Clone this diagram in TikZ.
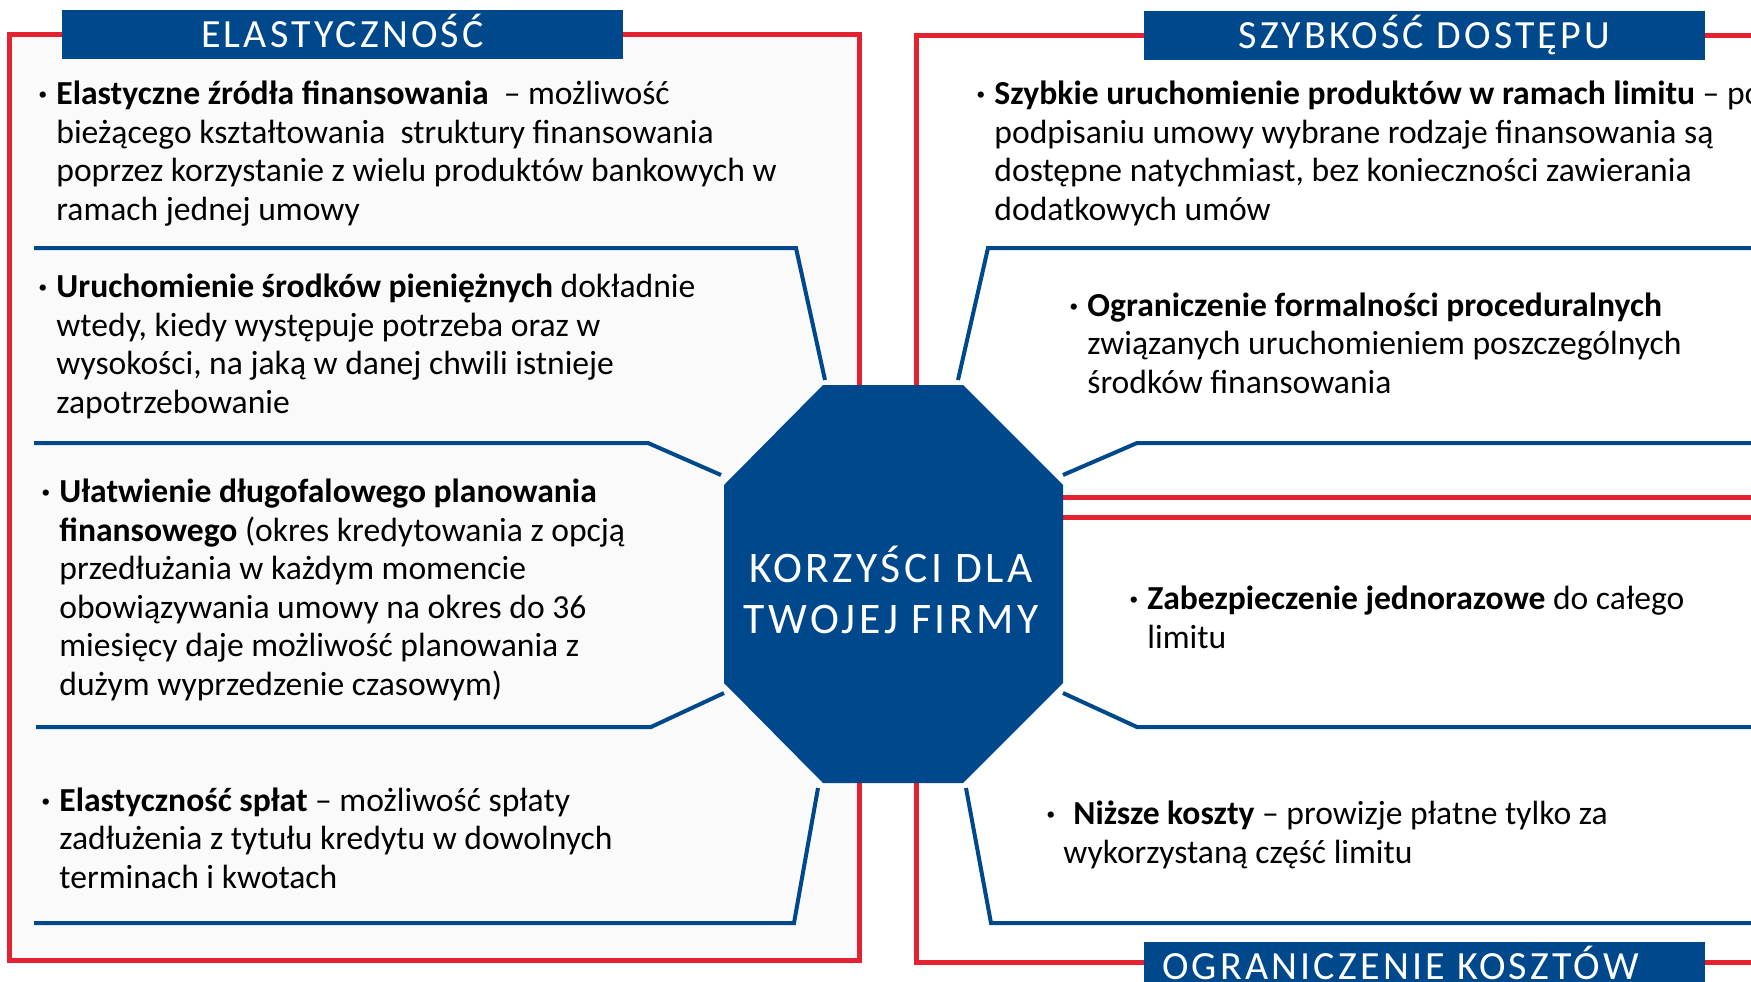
\documentclass[tikz,border=0pt]{standalone}
\usepackage{fontspec}
\setmainfont{Carlito}
\newfontfamily\capsfont[LetterSpace=8]{Carlito}
\usepackage{tikz}
\usetikzlibrary{positioning}

\definecolor{bankblue}{RGB}{0,72,140}
\definecolor{bankred}{RGB}{228,33,48}
\definecolor{panelgray}{RGB}{250,250,250}

\newcommand{\bul}{\llap{\textbf{·}\hspace{4.5pt}}}

\tikzset{
	frame/.style={draw=bankred, line width=2.5pt},
	sepline/.style={draw=bankblue, line width=2pt},
	headbox/.style={fill=bankblue, text=white, minimum width=280.5pt, minimum height=24.5pt,
		inner sep=0pt, text height=13pt, text depth=0pt, font=\capsfont\fontsize{20}{20}\selectfont},
	corelabel/.style={text=white, align=center, anchor=base, inner sep=0pt,
		font=\capsfont\fontsize{21.8}{25.5}\selectfont},
	benefit/.style={anchor=base west, align=left, inner sep=0pt,
		font=\fontsize{16.8}{19.25}\selectfont},
}

\begin{document}
\begin{tikzpicture}[x=0.5pt, y=-0.5pt]
	% Canvas:
	\useasboundingbox (0,0) rectangle (1751,981);
	\clip (0,0) rectangle (1751,981);
	% Frames:
	\filldraw[frame, fill=panelgray] (9.5,34.5) rectangle (859.5,960.5);
	\draw[frame] (1800,35.5) -| (916.5,497) -- (1800,497);
	\draw[frame] (1800,517) -| (916.5,962.5) -- (1800,962.5);
	% Headers:
	\node[headbox] (hdflex) at (342.5,34.5) {ELASTYCZNOŚĆ};
	\node[headbox] (hdspeed) at (1424.5,35.5) {SZYBKOŚĆ DOSTĘPU};
	\node[headbox] (hdcost) at (1424.5,966.5) {\hspace*{-24pt}OGRANICZENIE KOSZTÓW};
	% Octagon and its label:
	\fill[bankblue] (823,385) -- (963,385) -- (1063,485) -- (1063,683) -- (963,783) -- (823,783) -- (724,683) -- (724,485) -- cycle;
	\node[corelabel] (core) at (891,633) {KORZYŚCI DLA\\TWOJEJ FIRMY};
	% Separators:
	\draw[sepline] (34,248) -- (796,248) -- (825,380);
	\draw[sepline] (34,443) -- (648,443) -- (721,475);
	\draw[sepline] (36,727) -- (651,727) -- (724,693);
	\draw[sepline] (34,923) -- (794,923) -- (818,788);
	\draw[sepline] (1800,248) -- (988,248) -- (958,380);
	\draw[sepline] (1800,443) -- (1137,443) -- (1063,475);
	\draw[sepline] (1063,693) -- (1137,727) -- (1800,727);
	\draw[sepline] (966,788) -- (991,923) -- (1800,923);
	% Benefits, left (placed by last baseline):
	\node[benefit] (flexsrc) at (56,220) {\bul\textbf{Elastyczne źródła finansowania}\ \ – możliwość\\
		bieżącego kształtowania\ \ struktury finansowania\\
		poprzez korzystanie z wielu produktów bankowych w\\
		ramach jednej umowy};
	\node[benefit] (flexcash) at (56,413) {\bul\textbf{Uruchomienie środków pieniężnych} dokładnie\\
		wtedy, kiedy występuje potrzeba oraz w\\
		wysokości, na jaką w danej chwili istnieje\\
		zapotrzebowanie};
	\node[benefit] (flexplan) at (59,695) {\bul\textbf{Ułatwienie długofalowego planowania}\\
		\textbf{finansowego} (okres kredytowania z opcją\\
		przedłużania w każdym momencie\\
		obowiązywania umowy na okres do 36\\
		miesięcy daje możliwość planowania z\\
		dużym wyprzedzenie czasowym)};
	\node[benefit] (flexpay) at (59,888) {\bul\textbf{Elastyczność spłat} – możliwość spłaty\\
		zadłużenia z tytułu kredytu w dowolnych\\
		terminach i kwotach};
	% Benefits, right:
	\node[benefit] (speedlaunch) at (994,220) {\bul\textbf{Szybkie uruchomienie produktów w ramach limitu} – po\\
		podpisaniu umowy wybrane rodzaje finansowania są\\
		dostępne natychmiast, bez konieczności zawierania\\
		dodatkowych umów};
	\node[benefit] (speedforms) at (1087,393) {\bul\textbf{Ograniczenie formalności proceduralnych}\\
		związanych uruchomieniem poszczególnych\\
		środków finansowania};
	\node[benefit] (costsecure) at (1147,648) {\bul\textbf{Zabezpieczenie jednorazowe} do całego\\
		limitu};
	\node[benefit] (costfees) at (1063,863) {\hspace*{5pt}\llap{\textbf{·}\hspace{9pt}}\textbf{Niższe koszty} – prowizje płatne tylko za\\
		wykorzystaną część limitu};
\end{tikzpicture}
\end{document}
